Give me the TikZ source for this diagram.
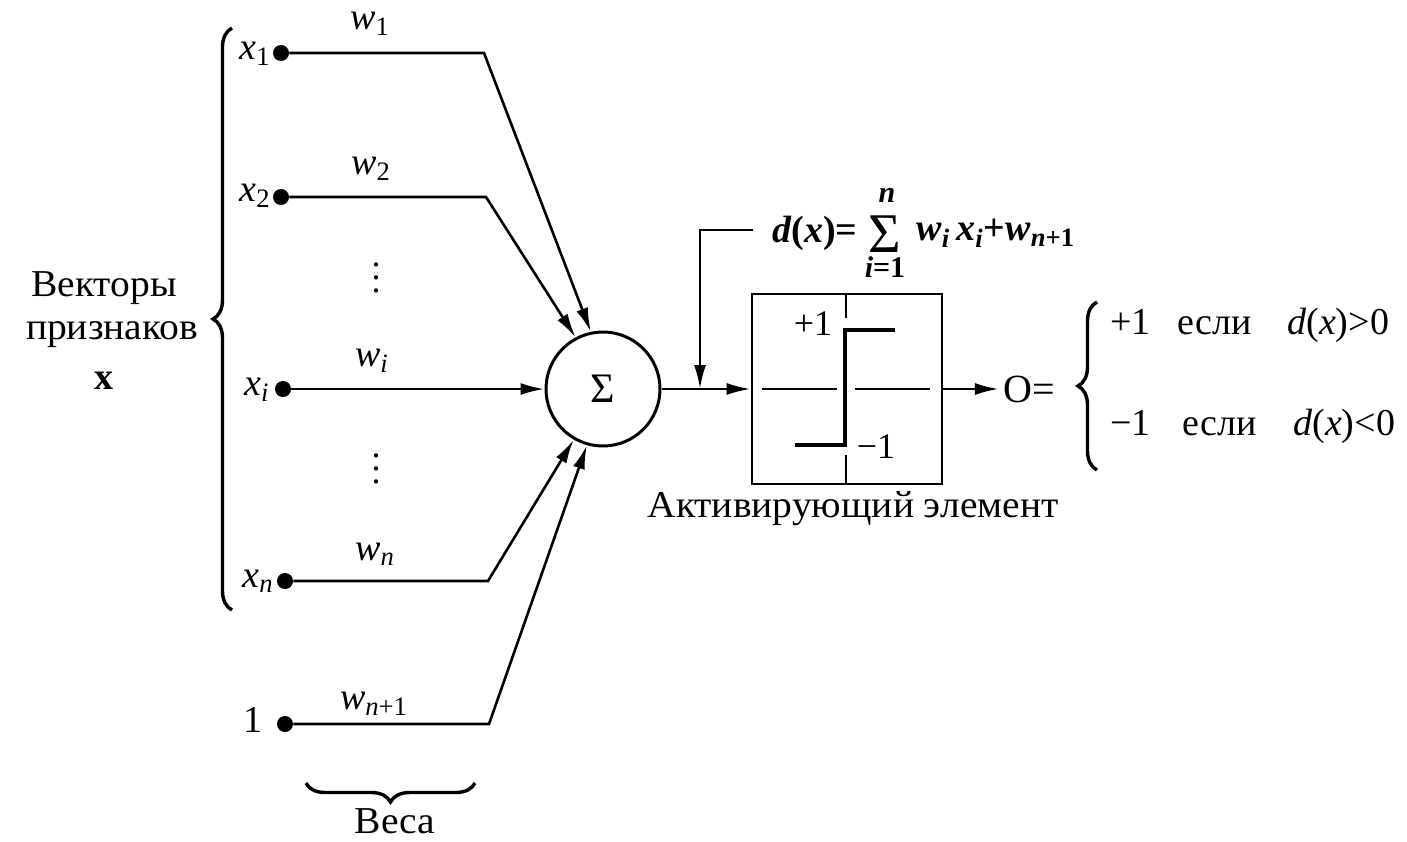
\documentclass[tikz,border=0pt]{standalone}
\usepackage{fontspec}
\setmainfont{Liberation Serif}
\newfontfamily\widefont{Liberation Serif}[FakeStretch=1.04]
\usetikzlibrary{arrows.meta,decorations.pathreplacing}
\newcommand{\myvdots}{\vbox{\baselineskip6.5pt\lineskiplimit0pt\hbox{.}\hbox{.}\hbox{.}}}
\begin{document}
\begin{tikzpicture}[x=0.5pt,y=-0.5pt,
  wire/.style={line width=1.3pt},
  arr/.style={wire,-{Latex[length=12pt,width=6pt]}},
  dotn/.style={circle,fill,inner sep=0pt,minimum size=8pt},
  lab/.style={inner sep=0pt,font=\fontsize{19}{19}\selectfont\itshape},
  txt/.style={inner sep=0pt,font=\fontsize{19}{19}\selectfont\widefont},
  rtxt/.style={inner sep=0pt,anchor=base west,font=\fontsize{19}{19}\selectfont},
  fm/.style={inner sep=0pt,font=\fontsize{19}{19}\selectfont\bfseries},
  fms/.style={inner sep=0pt,font=\fontsize{15}{15}\selectfont\bfseries},
  brc/.style={decorate,decoration={brace,amplitude=9.5pt},line width=1.7pt},
  boxline/.style={line width=1.3pt},
  stepline/.style={line width=2pt},
  vdt/.style={inner sep=0pt,font=\fontsize{18}{18}\selectfont}
]
\useasboundingbox (0,0) rectangle (1407,841);

% input dots
\node[dotn] (d1) at (281,53) {};
\node[dotn] (d2) at (281,197) {};
\node[dotn] (di) at (283,389) {};
\node[dotn] (dn) at (285,581) {};
\node[dotn] (d0) at (285,724) {};
\coordinate (k1) at (484,53);
\coordinate (k2) at (486,197);
\coordinate (kn) at (488,581);
\coordinate (k0) at (489,724);

% summation node
\node[draw,circle,line width=1.5pt,minimum size=57pt,inner sep=0pt,
      font=\fontsize{21}{21}\selectfont] (sum) at (603,389) {Σ};

% input labels
\node[lab,anchor=east] (lx1) at (271,54) {x\textsubscript{\upshape 1}};
\node[lab,anchor=east] (lx2) at (271,196) {x\textsubscript{\upshape 2}};
\node[lab,anchor=east] (lxi) at (270,390) {x\textsubscript{i}};
\node[lab,anchor=east] (lxn) at (274,581) {x\textsubscript{n}};
\node[inner sep=0pt,font=\fontsize{19}{19}\selectfont] (l1) at (253,720) {1};

% weight labels
\node[lab] (lw1) at (370,24) {w\textsubscript{\upshape 1}};
\node[lab] (lw2) at (371,169) {w\textsubscript{\upshape 2}};
\node[lab] (lwi) at (372,361) {w\textsubscript{i}};
\node[lab] (lwn) at (375,554) {w\textsubscript{n}};
\node[lab] (lw0) at (374,704) {w\textsubscript{n\upshape +1}};

% vertical dots
\node[vdt] (vd1) at (376,278) {\myvdots};
\node[vdt] (vd2) at (376,469) {\myvdots};

% connectors into the sum
\draw[arr] (d1) -- (k1) -- (sum.102);
\draw[arr] (d2) -- (k2) -- (sum.118);
\draw[arr] (di) -- (sum);
\draw[arr] (dn) -- (kn) -- (sum.240);
\draw[arr] (d0) -- (k0) -- (sum.254);

% braces and side texts
\draw[brc] (232,610) -- (232,28);
\node[txt] (t1) at (104,288) {Векторы};
\node[txt] (t2) at (112,335) {признаков};
\node[inner sep=0pt,font=\fontsize{19}{19}\selectfont\bfseries] (t3) at (104,381) {x};
\draw[brc] (475,783) -- (306,783);
\node[txt] (veca) at (395,821) {Веса};

% activation box
\node[draw,boxline,minimum width=95pt,minimum height=95pt,inner sep=0pt] (box) at (847,389) {};
\draw[boxline] (846,294) -- (846,318);
\draw[boxline] (846,455) -- (846,484);
\draw[wire] (762,389) -- (837,389);
\draw[wire] (855,389) -- (930,389);
\draw[stepline] (795,445) -- (845,445) -- (845,330) -- (895,330);
\node[inner sep=0pt,font=\fontsize{18}{18}\selectfont] (p1) at (813,324) {+1};
\node[inner sep=0pt,font=\fontsize{18}{18}\selectfont] (m1) at (876,447) {−1};
\node[txt] (act) at (853,509) {Активирующий элемент};

% sum to box, with feedback of formula
\coordinate (j) at (700,389);
\coordinate (fb) at (753,230);
\draw[arr] (sum) -- (box);
\draw[arr] (fb) -| (j);
\node[fm,anchor=west] (dx) at (772,233) {{\itshape d}({\itshape x})=};
\node[inner sep=0pt,font=\fontsize{28}{28}\selectfont] (sig) at (885,234) {Σ};
\node[fms] (sn) at (887,195) {\itshape n};
\node[fms] (si) at (885,267) {{\itshape i}=1};
\node[fm,anchor=west] (wx) at (916,233) {{\itshape w\textsubscript{i}\,x\textsubscript{i}}+{\itshape w\textsubscript{n\upshape +1}}};

% output
\node[inner sep=2pt,font=\fontsize{20}{20}\selectfont] (O) at (1029,389) {O=};
\draw[arr] (box) -- (O);
\draw[brc] (1097,470) -- (1097,302);
\node[rtxt] (r1a) at (1110,334) {+1};
\node[rtxt] (r1b) at (1177,334) {если};
\node[rtxt] (r1c) at (1287,334) {{\itshape d}({\itshape x})>0};
\node[rtxt] (r2a) at (1110,435) {−1};
\node[rtxt] (r2b) at (1182,435) {если};
\node[rtxt] (r2c) at (1293,435) {{\itshape d}({\itshape x})<0};
\end{tikzpicture}
\end{document}
